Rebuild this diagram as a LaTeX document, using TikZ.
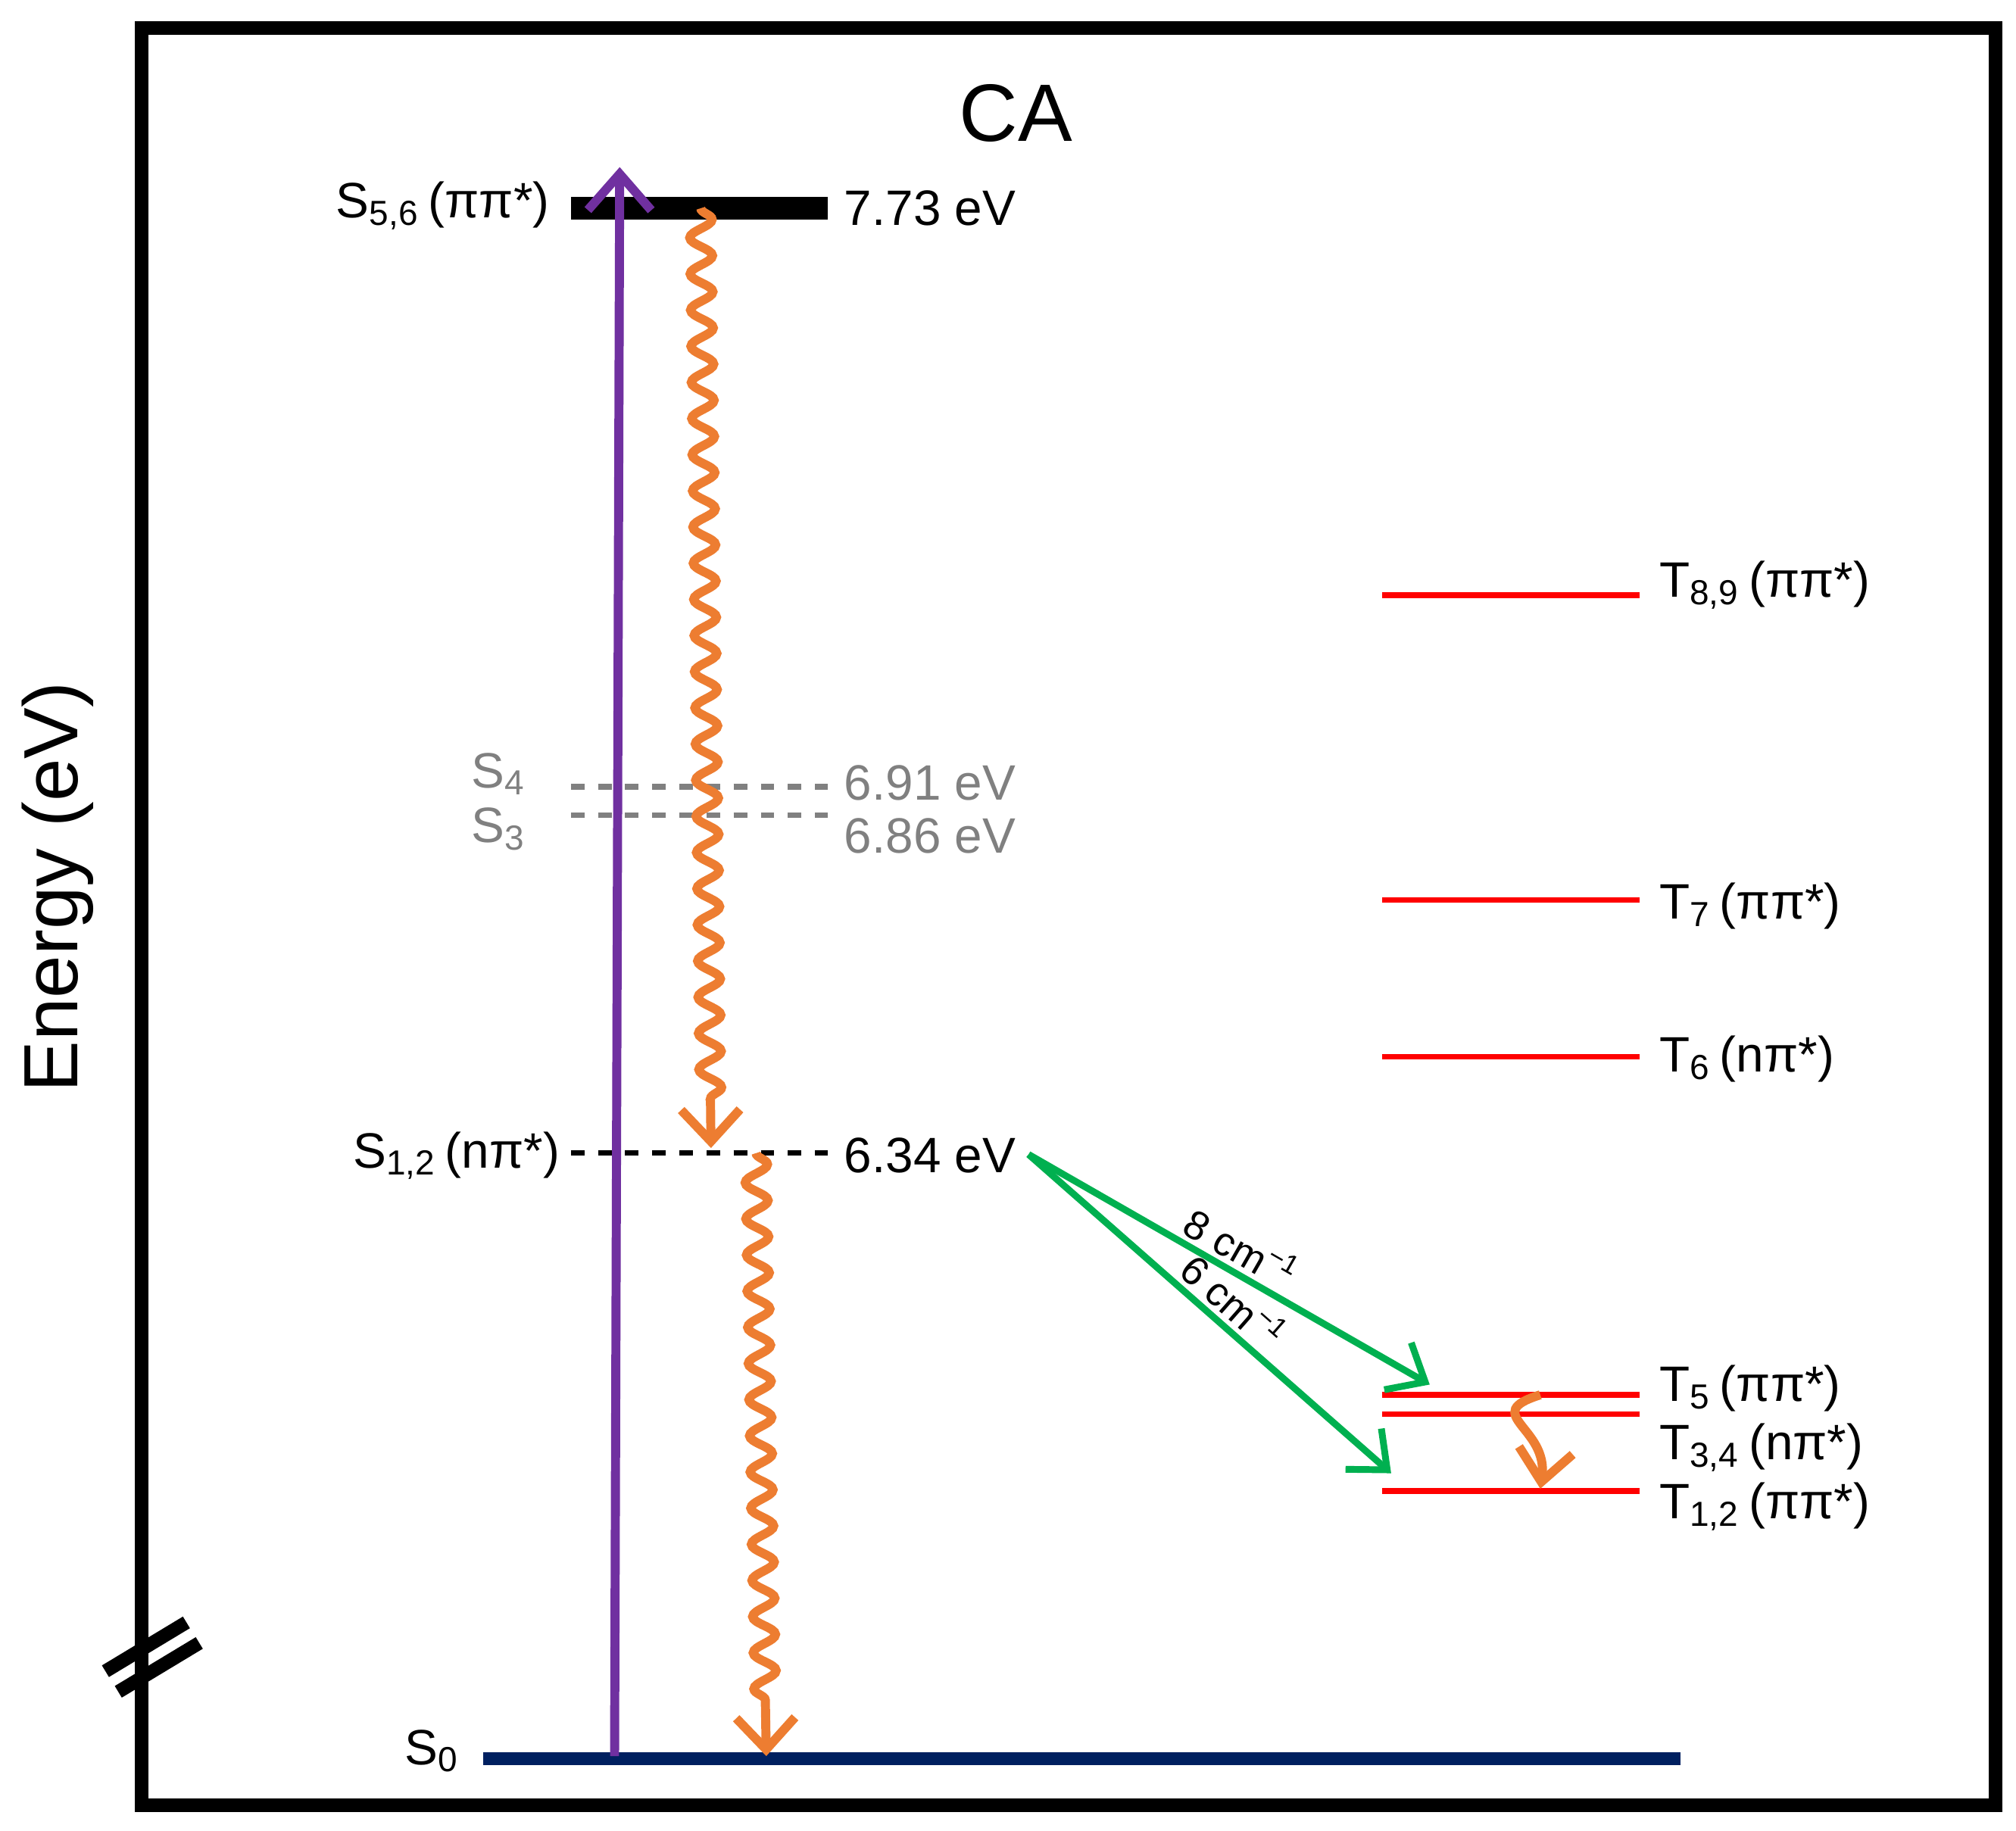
\documentclass[tikz,border=0pt]{standalone}
\usepackage{fontspec}
\setmainfont{Liberation Sans}
\usetikzlibrary{decorations.pathmorphing,arrows.meta}
\definecolor{orng}{RGB}{237,125,49}
\definecolor{purp}{RGB}{112,48,160}
\definecolor{grn}{RGB}{0,176,80}
\definecolor{navy}{RGB}{0,32,96}
\newcommand{\sbs}[1]{\textsubscript{#1}}
\begin{document}
\begin{tikzpicture}[x=0.01cm,y=-0.01cm,
 lbl/.style={font=\fontsize{11}{13}\selectfont,inner sep=0pt},
 trip/.style={red,line width=1.3pt},
 wav/.style={orng,line width=2pt,decorate,decoration={snake,amplitude=2.5pt,segment length=8pt,post length=10pt},-{Straight Barb[length=7pt,width=13pt]}},
 garr/.style={grn,line width=1.5pt,-{Straight Barb[length=7pt,width=12pt]}},
 glbl/.style={sloped,above,black,inner sep=1pt,font=\fontsize{9}{11}\selectfont}]
\useasboundingbox (0,0) rectangle (1568,1424);
\draw[line width=3pt] (110,22) rectangle (1552,1404);
\node[font=\fontsize{18}{22}\selectfont] (title) at (790,88) {CA};
\node[rotate=90,font=\fontsize{17}{20}\selectfont] (ylab) at (45,690) {Energy (eV)};
\draw[line width=3pt] (82,1300) -- (145,1262) (92,1316) -- (155,1278);
% singlets
\draw[line width=5pt] (444,162) coordinate (s56a) -- (644,162) coordinate (s56b);
\node[lbl,anchor=east] (ls56) at (428,160) {S\sbs{5,6}\,(ππ*)};
\node[lbl,anchor=west] (e56) at (656,162) {7.73 eV};
\draw[gray,dashed,line width=1.2pt] (444,612) -- (644,612) (444,634) -- (644,634);
\node[lbl,gray,anchor=east] (ls4) at (410,602) {S\sbs{4}};
\node[lbl,gray,anchor=east] (ls3) at (410,645) {S\sbs{3}};
\node[lbl,gray,anchor=west] (e4) at (656,609) {6.91 eV};
\node[lbl,gray,anchor=west] (e3) at (656,650) {6.86 eV};
\draw[dashed,line width=1.2pt] (444,897) -- (644,897);
\node[lbl,anchor=east] (ls12) at (436,899) {S\sbs{1,2}\,(nπ*)};
\node[lbl,anchor=west] (e12) at (656,899) {6.34 eV};
\draw[navy,line width=3pt] (376,1368) -- (1307,1368);
\node[lbl,anchor=east] (ls0) at (358,1362) {S\sbs{0}};
% triplets
\foreach \y/\t/\n/\o in {463/{T\sbs{8,9}\,(ππ*)}/t89/455,700/{T\sbs{7}\,(ππ*)}/t7/705,822/{T\sbs{6}\,(nπ*)}/t6/824,1085/{T\sbs{5}\,(ππ*)}/t5/1080,1160/{T\sbs{1,2}\,(ππ*)}/t12/1172}{
 \draw[trip] (1075,\y) -- (1275,\y);
 \node[lbl,anchor=west] (\n) at (1290,\o) {\t};}
\draw[trip] (1075,1100) -- (1275,1100);
\node[lbl,anchor=west] (t34) at (1290,1126) {T\sbs{3,4}\,(nπ*)};
% arrows
\draw[purp,line width=2pt,-{Straight Barb[length=8pt,width=14pt]}] (478,1366) -- (482,130);
\draw[wav] (545,162) -- (553,893);
\draw[wav] (588,897) -- (596,1366);
\draw[orng,line width=2pt,-{Straight Barb[length=7pt,width=12pt]}] (1198,1085) .. controls (1150,1100) and (1205,1110) .. (1198,1158);
\coordinate (g0) at (800,898);
\coordinate (g1) at (1112,1077);
\coordinate (g2) at (1082,1146);
\draw[garr] (g0) -- node[pos=0.5,glbl] {8 cm\textsuperscript{−1}} (g1);
\draw[garr] (g0) -- node[pos=0.52,glbl] {6 cm\textsuperscript{−1}} (g2);
\end{tikzpicture}
\end{document}
